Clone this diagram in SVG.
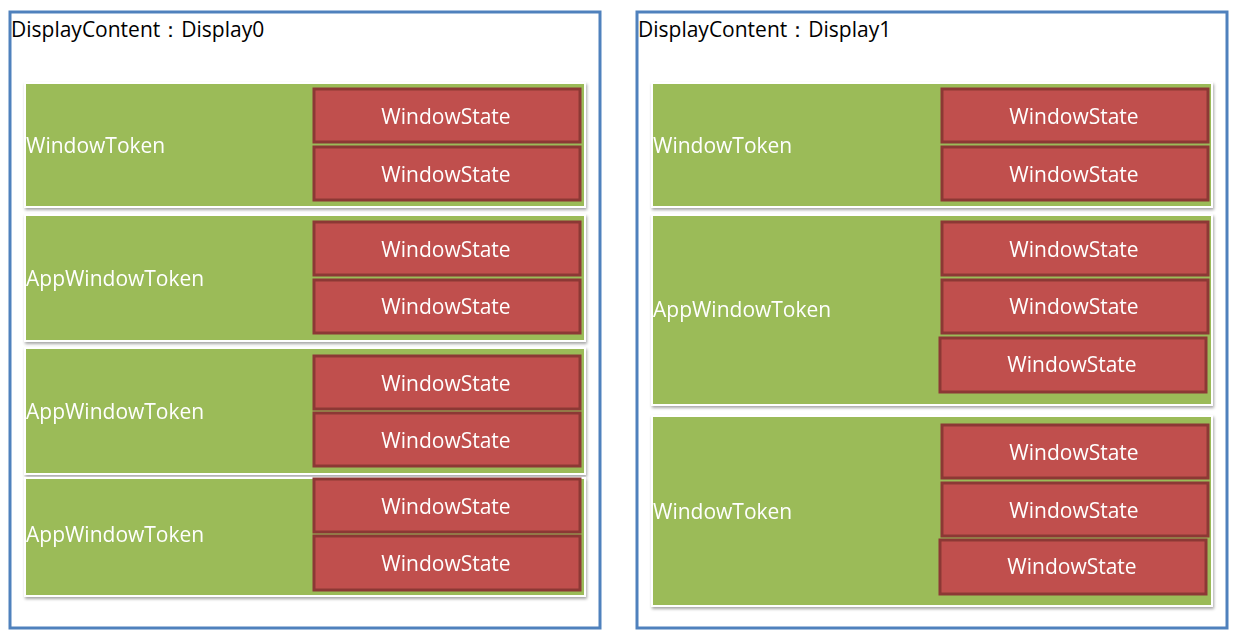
<svg xmlns="http://www.w3.org/2000/svg" width="1245" height="641" viewBox="0 0 1245 641">
<style>
.outer{fill:#fff;stroke:#4f81bd;stroke-width:3}
.tok{fill:#9bbb59;stroke:#fff;stroke-width:2}
.ws{fill:#c0504d;stroke:#8c3836;stroke-width:3}
.title{font-family:"Open Sans","DejaVu Sans",sans-serif;font-size:21px;fill:#000}
.tl{font-family:"Open Sans","DejaVu Sans",sans-serif;font-size:21px;fill:#fff}
.wl{font-family:"Open Sans","DejaVu Sans",sans-serif;font-size:21px;fill:#fff;text-anchor:middle}
</style>
<defs><filter id="sh" x="-5%" y="-5%" width="110%" height="115%"><feDropShadow dx="1" dy="2" stdDeviation="1.5" flood-opacity="0.35"/></filter></defs>
<g id="display0">
<rect class="outer" x="10" y="12" width="590" height="616"/>
<text class="title" x="11" y="37">DisplayContent：Display0</text>
</g>
<g id="display1">
<rect class="outer" x="637" y="12" width="590" height="616"/>
<text class="title" x="638" y="37">DisplayContent：Display1</text>
</g>
<g id="d0t1" filter="url(#sh)"><rect class="tok" x="25" y="83" width="560" height="124"/><text class="tl" x="26" y="153">WindowToken</text>
<rect class="ws" x="314" y="89" width="266" height="53"/><text class="wl" x="446" y="124">WindowState</text>
<rect class="ws" x="314" y="147" width="266" height="53"/><text class="wl" x="446" y="182">WindowState</text></g>
<g id="d0t2" filter="url(#sh)"><rect class="tok" x="25" y="215" width="560" height="126"/><text class="tl" x="26" y="286">AppWindowToken</text>
<rect class="ws" x="314" y="222" width="266" height="53"/><text class="wl" x="446" y="257">WindowState</text>
<rect class="ws" x="314" y="280" width="266" height="53"/><text class="wl" x="446" y="314">WindowState</text></g>
<g id="d0t3" filter="url(#sh)"><rect class="tok" x="25" y="348" width="560" height="126"/><text class="tl" x="26" y="419">AppWindowToken</text>
<rect class="ws" x="314" y="356" width="266" height="53"/><text class="wl" x="446" y="391">WindowState</text>
<rect class="ws" x="314" y="413" width="266" height="53"/><text class="wl" x="446" y="448">WindowState</text></g>
<g id="d0t4" filter="url(#sh)"><rect class="tok" x="25" y="478" width="560" height="118"/><text class="tl" x="26" y="542">AppWindowToken</text>
<rect class="ws" x="314" y="479" width="266" height="53"/><text class="wl" x="446" y="514">WindowState</text>
<rect class="ws" x="314" y="536" width="266" height="54"/><text class="wl" x="446" y="571">WindowState</text></g>
<g id="d1t1" filter="url(#sh)"><rect class="tok" x="652" y="83" width="560" height="124"/><text class="tl" x="653" y="153">WindowToken</text>
<rect class="ws" x="942" y="89" width="266" height="53"/><text class="wl" x="1074" y="124">WindowState</text>
<rect class="ws" x="942" y="147" width="266" height="53"/><text class="wl" x="1074" y="182">WindowState</text></g>
<g id="d1t2" filter="url(#sh)"><rect class="tok" x="652" y="215" width="560" height="190"/><text class="tl" x="653" y="317">AppWindowToken</text>
<rect class="ws" x="942" y="222" width="266" height="53"/><text class="wl" x="1074" y="257">WindowState</text>
<rect class="ws" x="942" y="280" width="266" height="53"/><text class="wl" x="1074" y="314">WindowState</text>
<rect class="ws" x="940" y="338" width="266" height="54"/><text class="wl" x="1072" y="372">WindowState</text></g>
<g id="d1t3" filter="url(#sh)"><rect class="tok" x="652" y="416" width="560" height="190"/><text class="tl" x="653" y="519">WindowToken</text>
<rect class="ws" x="942" y="425" width="266" height="53"/><text class="wl" x="1074" y="460">WindowState</text>
<rect class="ws" x="942" y="483" width="266" height="53"/><text class="wl" x="1074" y="518">WindowState</text>
<rect class="ws" x="940" y="540" width="266" height="54"/><text class="wl" x="1072" y="574">WindowState</text></g>
<g id="connectors"/>
</svg>
